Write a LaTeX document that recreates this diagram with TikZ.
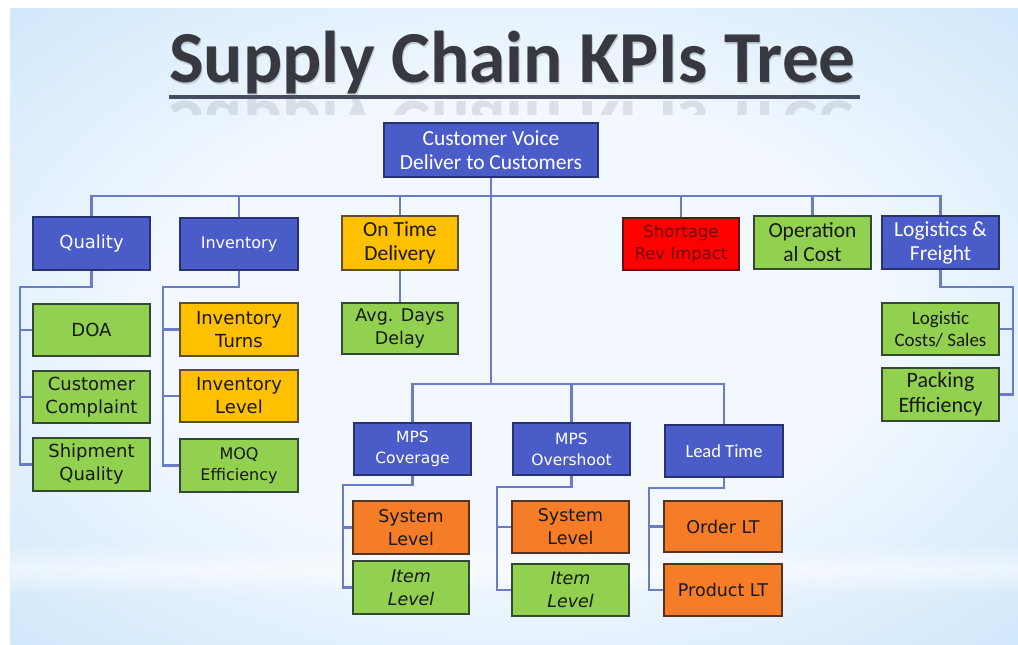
\documentclass[tikz,border=0pt]{standalone}
\usepackage{fontspec}
\setmainfont{DejaVu Sans}
\newfontfamily\carl{Carlito}
\usetikzlibrary{calc}

\definecolor{bgin}{RGB}{242,248,254}
\definecolor{bgmid}{RGB}{196,226,249}
\definecolor{bgedge}{RGB}{174,214,247}
\definecolor{bgout}{RGB}{158,205,244}
\definecolor{titlegray}{RGB}{56,57,64}
\definecolor{rulegray}{RGB}{72,76,98}
\definecolor{kblue}{RGB}{74,92,200}
\definecolor{kblueline}{RGB}{40,50,112}
\definecolor{kgreen}{RGB}{146,208,80}
\definecolor{kgreenline}{RGB}{52,72,52}
\definecolor{kgold}{RGB}{255,192,0}
\definecolor{kgoldline}{RGB}{92,80,50}
\definecolor{korange}{RGB}{246,125,40}
\definecolor{korangeline}{RGB}{84,52,32}
\definecolor{kred}{RGB}{255,0,0}
\definecolor{kredline}{RGB}{96,20,20}
\definecolor{kredtext}{RGB}{110,0,0}
\definecolor{connblue}{RGB}{106,124,198}
\definecolor{ink}{RGB}{24,24,24}

\pgfdeclareradialshading{kpibg}{\pgfpoint{0bp}{0bp}}{%
  color(0bp)=(bgin); color(18bp)=(bgin); color(42bp)=(bgmid); color(50bp)=(bgedge); color(72bp)=(bgout)}

\pgfdeclarelayer{back}
\pgfdeclarelayer{lines}
\pgfsetlayers{back,lines,main}

\tikzset{
  kpibox/.style={draw, line width=1.6pt, inner sep=0pt, outer sep=0pt,
    minimum width=117pt, minimum height=53pt, align=center},
  bluebox/.style={kpibox, fill=kblue, draw=kblueline, text=white},
  greenbox/.style={kpibox, fill=kgreen, draw=kgreenline, text=ink},
  goldbox/.style={kpibox, fill=kgold, draw=kgoldline, text=ink},
  orangebox/.style={kpibox, fill=korange, draw=korangeline, text=ink},
  redbox/.style={kpibox, fill=kred, draw=kredline, text=kredtext},
  conn/.style={draw=connblue, line width=2.2pt},
  fs/.style 2 args={font=\fontsize{#1}{#2}\selectfont},
  fsi/.style 2 args={font=\itshape\fontsize{#1}{#2}\selectfont},
  cs/.style 2 args={font=\carl\fontsize{#1}{#2}\selectfont},
  titletext/.style={anchor=base west, inner sep=0pt},
}

\newcommand{\kpititle}{\resizebox{686pt}{!}{\carl\bfseries Supply Chain KPIs Tree}}

\begin{document}
\begin{tikzpicture}[x=1pt, y=-1pt]
\useasboundingbox (0,0) rectangle (1018,645);

% backdrop: soft blue panel with a pale horizontal streak near the bottom
\begin{pgfonlayer}{back}
  \fill[white] (0,0) rectangle (1018,645);
  \shade[shading=kpibg] (10,8) rectangle (1018,645);
  \foreach \i in {0,...,24} {
    \pgfmathsetmacro{\op}{0.55*(1-abs(\i-12)/13)}
    \fill[white, opacity=\op] (10,545+2*\i) rectangle (1018,547+2*\i);
  }
\end{pgfonlayer}

% title with shadow, rule and reflection
\node[titletext, text=black, opacity=0.16] (titleshadow) at (170,84.5) {\kpititle};
\node[titletext, text=titlegray] (title) at (169,82.5) {\kpititle};
\begin{scope}
  \clip (150,99) rectangle (880,114);
  \node[titletext, text=titlegray, opacity=0.12, yscale=-1, transform shape]
    (titlemirror) at (169,101) {\kpititle};
\end{scope}
\draw[rulegray, line width=3.5pt] ([yshift=-14.5pt]title.base west) -- ([xshift=4pt, yshift=-14.5pt]title.base east);

% root
\node[bluebox, minimum width=214pt, minimum height=54pt, cs={21.5}{24}] (root) at (491,150)
  {Customer Voice\\Deliver to Customers};

% first level
\node[bluebox, fs={18}{23}] (quality) at (91.5,243.5) {Quality};
\node[bluebox, fs={16}{20}, minimum width=118pt, minimum height=52pt] (inv) at (239,244) {Inventory};
\node[goldbox, cs={21.5}{24}, minimum width=116pt, minimum height=54pt] (otd) at (400,243) {On Time\\Delivery};
\node[redbox, fs={16.5}{22}, minimum width=116pt, minimum height=52pt] (short) at (681,244) {Shortage\\Rev Impact};
\node[greenbox, cs={21.5}{24}] (opcost) at (812.5,242.5) {Operation\\al Cost};
\node[bluebox, cs={21.5}{24}] (logis) at (940.5,242.5) {Logistics \&\\Freight};

% quality branch
\node[greenbox, fs={18}{23}, minimum height=52pt] (doa) at (91.5,330) {DOA};
\node[greenbox, fs={18}{23}, minimum height=52pt] (complaint) at (91.5,397) {Customer\\Complaint};
\node[greenbox, fs={18}{23}] (ship) at (91.5,464.5) {Shipment\\Quality};

% inventory branch
\node[goldbox, fs={18}{23}, minimum width=118pt] (turns) at (239,329.5) {Inventory\\Turns};
\node[goldbox, fs={18}{23}, minimum width=118pt, minimum height=52pt] (level) at (239,396) {Inventory\\Level};
\node[greenbox, fs={16}{21}, minimum width=118pt] (moq) at (239,465.5) {MOQ\\Efficiency};

% delivery branch
\node[greenbox, fs={17.5}{23}, minimum width=116pt, minimum height=51pt] (avg) at (400,328.5) {Avg. Days\\Delay};

% logistics branch
\node[greenbox, cs={19}{22}, minimum height=52pt] (lcs) at (940.5,329) {Logistic\\Costs/ Sales};
\node[greenbox, cs={22}{25}] (pack) at (940.5,394.5) {Packing\\Efficiency};

% planning level
\node[bluebox, fs={15.5}{21}, minimum height=52pt] (mpscov) at (412.5,449) {MPS\\Coverage};
\node[bluebox, fs={15.5}{21}, minimum height=52pt] (mpsover) at (571.5,449) {MPS\\Overshoot};
\node[bluebox, cs={18.5}{22}, minimum width=118pt, minimum height=52pt] (lead) at (724,451) {Lead Time};

\node[orangebox, fs={17.5}{23}, minimum width=116pt] (sys1) at (411,527.5) {System\\Level};
\node[greenbox, fsi={17.5}{23}, minimum width=116pt] (item1) at (411,587.5) {Item\\Level};
\node[orangebox, fs={17.5}{23}, minimum height=52pt] (sys2) at (570.5,527) {System\\Level};
\node[greenbox, fsi={17.5}{23}, minimum height=52pt] (item2) at (570.5,590) {Item\\Level};
\node[orangebox, fs={17.5}{23}, minimum width=118pt, minimum height=51pt] (order) at (723,526.5) {Order LT};
\node[orangebox, fs={17.5}{23}, minimum width=118pt, minimum height=52pt] (prod) at (723,590) {Product LT};

% connectors
\coordinate (topbus) at (491,196);
\coordinate (mpsbus) at (491,384);
\coordinate (qrail) at (20,287);
\coordinate (irail) at (163,287);
\coordinate (lrail) at (1013,287);
\coordinate (crail) at (343,485);
\coordinate (orail) at (497,487);
\coordinate (trail) at (649,488);

\begin{pgfonlayer}{lines}
  \draw[conn] (quality.north) |- (topbus) -| (logis.north);
  \foreach \n in {inv, otd, short, opcost}
    \draw[conn] (\n.north) -- (\n.north |- topbus);
  \draw[conn] (root.south) -- (mpsbus);
  \draw[conn] (mpscov.north) |- (mpsbus) -| (lead.north);
  \draw[conn] (mpsover.north) -- (mpsover.north |- mpsbus);

  \draw[conn] (quality.south) |- (qrail) |- (ship.west);
  \draw[conn] (qrail |- doa.west) -- (doa.west);
  \draw[conn] (qrail |- complaint.west) -- (complaint.west);

  \draw[conn] (inv.south) |- (irail) |- (moq.west);
  \draw[conn] (irail |- turns.west) -- (turns.west);
  \draw[conn] (irail |- level.west) -- (level.west);

  \draw[conn] (otd.south) -- (avg.north);

  \draw[conn] (logis.south) |- (lrail) |- (pack.east);
  \draw[conn] (lrail |- lcs.east) -- (lcs.east);

  \draw[conn] (mpscov.south) |- (crail) |- (item1.west);
  \draw[conn] (crail |- sys1.west) -- (sys1.west);
  \draw[conn] (mpsover.south) |- (orail) |- (item2.west);
  \draw[conn] (orail |- sys2.west) -- (sys2.west);
  \draw[conn] (lead.south) |- (trail) |- (prod.west);
  \draw[conn] (trail |- order.west) -- (order.west);
\end{pgfonlayer}
\end{tikzpicture}
\end{document}
